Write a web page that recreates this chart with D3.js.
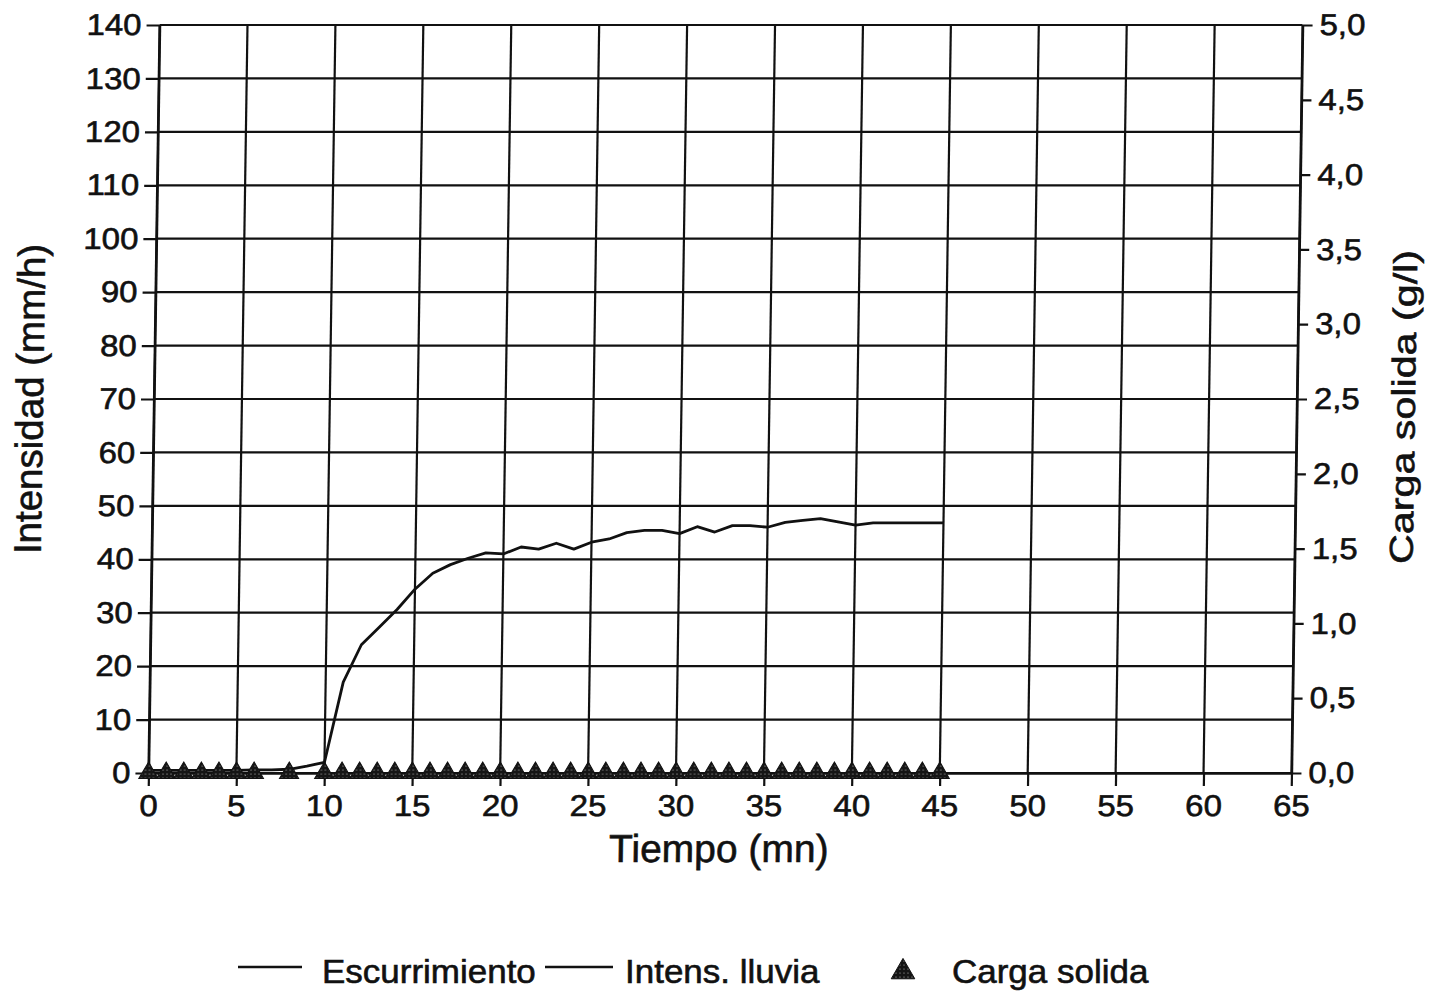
<!DOCTYPE html>
<html>
<head>
<meta charset="utf-8">
<script src="https://cdn.jsdelivr.net/npm/d3@7/dist/d3.min.js"></script>
<style>
  html, body { margin: 0; padding: 0; background: #fff; }
  svg { display: block; }
  text { font-family: "Liberation Sans", Arial, Helvetica, sans-serif; fill: #111; stroke: #111; stroke-width: 0.6px; }
</style>
</head>
<body>
<svg id="chart" width="1436" height="992"></svg>
<script>
// Time axis (minutes) and tick values
const xTicks = [0, 5, 10, 15, 20, 25, 30, 35, 40, 45, 50, 55, 60, 65];
const yLeftTicks = [0, 10, 20, 30, 40, 50, 60, 70, 80, 90, 100, 110, 120, 130, 140];
const yRightTicks = [0, 0.5, 1, 1.5, 2, 2.5, 3, 3.5, 4, 4.5, 5];

// Runoff (Escurrimiento), mm/h, one reading per minute
const runoffTime = [0, 1, 2, 3, 4, 5, 6, 7, 8, 9, 10, 11, 12, 13, 14, 15, 16, 17, 18, 19, 20,
  21, 22, 23, 24, 25, 26, 27, 28, 29, 30, 31, 32, 33, 34, 35, 36, 37, 38, 39, 40,
  41, 42, 43, 44, 45];
const runoffValue = [0.5, 0.5, 0.5, 0.5, 0.5, 0.5, 0.6, 0.6, 0.7, 1.3, 2.0, 17.0, 24.0, 27.3, 30.6, 34.4,
  37.4, 39.0, 40.2, 41.2, 41.0, 42.3, 41.9, 43.0, 41.9, 43.2, 43.8, 45.0, 45.4, 45.4, 44.8,
  46.1, 45.1, 46.3, 46.3, 46.0, 46.9, 47.3, 47.6, 47.0, 46.4, 46.8, 46.8, 46.8, 46.8, 46.8];

// Sediment load (Carga solida), g/l
const loadTime = [0, 1, 2, 3, 4, 5, 6, 8, 10, 11, 12, 13, 14, 15, 16, 17, 18, 19, 20, 21, 22,
  23, 24, 25, 26, 27, 28, 29, 30, 31, 32, 33, 34, 35, 36, 37, 38, 39, 40, 41, 42, 43, 44, 45];
const loadValue = loadTime.map(() => 0.0);

const legendLabels = ["Escurrimiento", "Intens. lluvia", "Carga solida"];

const INK = "#111";
const svg = d3.select("#chart");

// sheet lean
const sheet = svg.append("g")
  .attr("transform", "translate(0,400) skewX(-0.85) translate(0,-400)");

const x = d3.scaleLinear().domain([0, 65]).range([154, 1297]);
const yL = d3.scaleLinear().domain([0, 140]).range([773, 25]);
const yR = d3.scaleLinear().domain([0, 5]).range([773, 25]);

// speckled fill for the triangle markers
const defs = svg.append("defs");
const pat = defs.append("pattern").attr("id", "speckle")
  .attr("patternUnits", "userSpaceOnUse").attr("width", 4).attr("height", 4);
pat.append("rect").attr("width", 4).attr("height", 4).attr("fill", "#151515");
pat.append("circle").attr("cx", 1).attr("cy", 1).attr("r", 0.6).attr("fill", "#bbb");

// grid
const grid = sheet.append("g").attr("stroke", INK).attr("stroke-width", 2.2);
grid.selectAll("line.v").data(xTicks).join("line")
  .attr("x1", d => x(d)).attr("x2", d => x(d))
  .attr("y1", yL(0)).attr("y2", yL(140));
grid.selectAll("line.h").data(yLeftTicks).join("line")
  .attr("x1", x(0)).attr("x2", x(65))
  .attr("y1", d => yL(d)).attr("y2", d => yL(d));

const tickFont = 30, tickStretch = 1.1;

function styleAxis(g) {
  g.selectAll("path.domain").attr("stroke", INK).attr("stroke-width", 2.4);
  g.selectAll(".tick line").attr("stroke", INK).attr("stroke-width", 2.2);
  g.selectAll("text").attr("font-size", tickFont).attr("fill", INK)
    .attr("font-family", '"Liberation Sans", Arial, Helvetica, sans-serif');
}

// bottom axis
const gx = sheet.append("g").attr("transform", `translate(0,${yL(0)})`)
  .call(d3.axisBottom(x).tickValues(xTicks).tickSize(13).tickPadding(9).tickSizeOuter(0));
styleAxis(gx);
gx.selectAll("text").attr("transform", `scale(${tickStretch},1)`);

// left axis
const gyl = sheet.append("g").attr("transform", `translate(${x(0)},0)`)
  .call(d3.axisLeft(yL).tickValues(yLeftTicks).tickSize(13).tickSizeOuter(0));
styleAxis(gyl);
gyl.selectAll("text").attr("x", null).attr("transform", `translate(-18,0) scale(${tickStretch},1)`);

// right axis
const gyr = sheet.append("g").attr("transform", `translate(${x(65)},0)`)
  .call(d3.axisRight(yR).tickValues(yRightTicks).tickSize(10).tickSizeOuter(0)
    .tickFormat(d => d.toFixed(1).replace(".", ",")));
styleAxis(gyr);
gyr.selectAll("text").attr("x", null).attr("transform", `translate(17,0) scale(${tickStretch},1)`);

// axis titles
sheet.append("text")
  .attr("transform", `translate(${(x(0) + x(65)) / 2},862)`)
  .attr("text-anchor", "middle").attr("font-size", 39)
  .text("Tiempo (mn)");

sheet.append("text")
  .attr("transform", `translate(43,${(yL(0) + yL(140)) / 2}) rotate(-90)`)
  .attr("text-anchor", "middle").attr("font-size", 38.5)
  .text("Intensidad (mm/h)");

sheet.append("text")
  .attr("transform", `translate(1415,407) rotate(-90) scale(1.25,1)`)
  .attr("text-anchor", "middle").attr("font-size", 33)
  .text("Carga solida (g/l)");

// runoff curve
const runoff = runoffTime.map((t, i) => [t, runoffValue[i]]);
sheet.append("path").datum(runoff)
  .attr("fill", "none").attr("stroke", INK).attr("stroke-width", 2.8)
  .attr("stroke-linejoin", "round")
  .attr("d", d3.line().x(d => x(d[0])).y(d => yL(d[1])));

// sediment load markers
const load = loadTime.map((t, i) => [t, loadValue[i]]);
sheet.append("path").datum(load)
  .attr("fill", "none").attr("stroke", INK).attr("stroke-width", 2)
  .attr("d", d3.line().x(d => x(d[0])).y(d => yR(d[1])));
sheet.selectAll("path.tri").data(load).join("path")
  .attr("class", "tri")
  .attr("transform", d => `translate(${x(d[0])},${yR(d[1])})`)
  .attr("d", d3.symbol(d3.symbolTriangle, 160))
  .attr("fill", "url(#speckle)").attr("stroke", INK).attr("stroke-width", 1);

// legend
const legend = svg.append("g");
const legFont = 33, legStretch = 1.06;
legend.append("line").attr("x1", 238).attr("x2", 302).attr("y1", 967).attr("y2", 967)
  .attr("stroke", INK).attr("stroke-width", 2.4);
legend.append("text").attr("transform", `translate(322,983) scale(${legStretch},1)`)
  .attr("font-size", legFont).text(legendLabels[0]);
legend.append("line").attr("x1", 545).attr("x2", 613).attr("y1", 967).attr("y2", 967)
  .attr("stroke", INK).attr("stroke-width", 2.4);
legend.append("text").attr("transform", `translate(625,983) scale(${legStretch},1)`)
  .attr("font-size", legFont).text(legendLabels[1]);
legend.append("path")
  .attr("transform", "translate(903,972)")
  .attr("d", d3.symbol(d3.symbolTriangle, 240))
  .attr("fill", "url(#speckle)").attr("stroke", INK).attr("stroke-width", 1);
legend.append("text").attr("transform", `translate(952,983) scale(${legStretch},1)`)
  .attr("font-size", legFont).text(legendLabels[2]);
</script>
</body>
</html>
